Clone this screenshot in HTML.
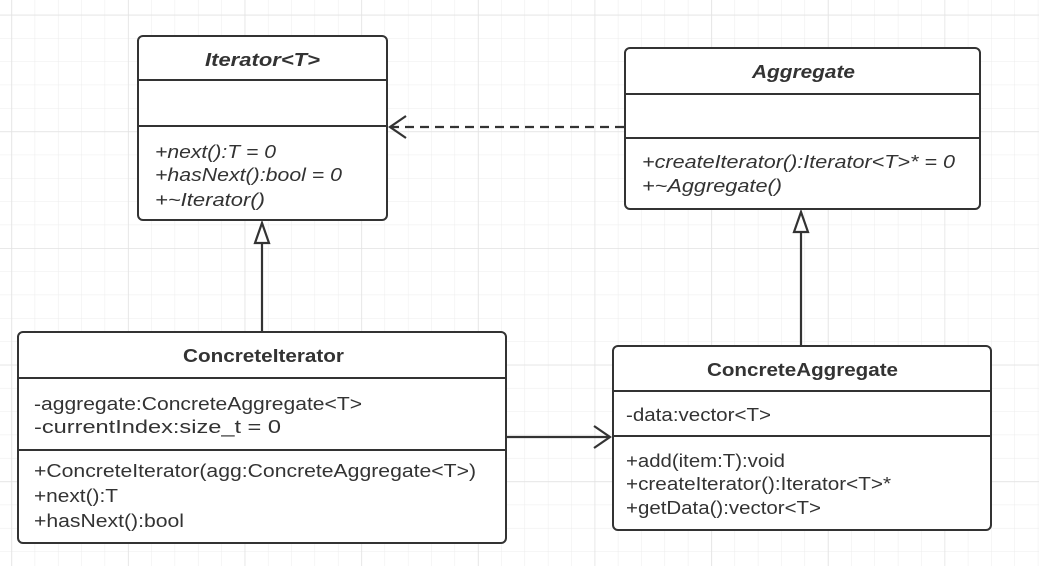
<!DOCTYPE html>
<html><head><meta charset="utf-8"><style>
html,body{margin:0;padding:0;background:#fff}
svg text{font-family:"Liberation Sans","Noto Sans CJK SC",sans-serif;font-size:18px;fill:#333}
.b{font-weight:bold}
.i{font-style:italic}
</style></head><body>
<svg width="1039" height="566" viewBox="0 0 1039 566" xmlns="http://www.w3.org/2000/svg">
<defs>
<pattern id="g" x="11.3" y="14.7" width="23.33" height="23.33" patternUnits="userSpaceOnUse">
<path d="M0 0H23.33M0 0V23.33" stroke="#ececec" stroke-width="1" fill="none"/>
</pattern>
<pattern id="G" x="11.3" y="14.7" width="116.65" height="116.65" patternUnits="userSpaceOnUse">
<path d="M0 0H116.65M0 0V116.65" stroke="#e2e2e2" stroke-width="1.5" fill="none"/>
</pattern>
</defs>
<rect width="1039" height="566" fill="url(#g)"/>
<rect width="1039" height="566" fill="url(#G)"/>
<g stroke="#333" stroke-width="2" fill="#fff">
<rect x="138" y="36" width="249" height="184" rx="5"/>
<line x1="138" y1="80" x2="387" y2="80"/><line x1="138" y1="126" x2="387" y2="126"/>
<rect x="625" y="48" width="355" height="161" rx="5"/>
<line x1="625" y1="94" x2="980" y2="94"/><line x1="625" y1="138" x2="980" y2="138"/>
<rect x="18" y="332" width="488" height="211" rx="5"/>
<line x1="18" y1="378" x2="506" y2="378"/><line x1="18" y1="450" x2="506" y2="450"/>
<rect x="613" y="346" width="378" height="184" rx="5"/>
<line x1="613" y1="391" x2="991" y2="391"/><line x1="613" y1="436" x2="991" y2="436"/>
</g>
<g stroke="#333" stroke-width="2.2" fill="none">
<line x1="624" y1="127" x2="392" y2="127" stroke-dasharray="9,6"/>
<polyline points="406,116 390,127 406,138"/>
<line x1="262" y1="332" x2="262" y2="243"/>
<polygon points="262,223 255,243 269,243" fill="#fff"/>
<line x1="801" y1="346" x2="801" y2="232"/>
<polygon points="801,212 794,232 808,232" fill="#fff"/>
<line x1="506" y1="437" x2="610" y2="437"/>
<polyline points="594,426 610,437 594,448"/>
</g>
<text x="205" y="66" textLength="115" lengthAdjust="spacingAndGlyphs" class="b i">Iterator&lt;T&gt;</text>
<text x="155" y="158" textLength="121" lengthAdjust="spacingAndGlyphs" class="i">+next():T = 0</text>
<text x="155" y="181" textLength="187" lengthAdjust="spacingAndGlyphs" class="i">+hasNext():bool = 0</text>
<text x="155" y="206" textLength="110" lengthAdjust="spacingAndGlyphs" class="i">+~Iterator()</text>
<text x="752" y="78" textLength="103" lengthAdjust="spacingAndGlyphs" class="b i">Aggregate</text>
<text x="642" y="168" textLength="313" lengthAdjust="spacingAndGlyphs" class="i">+createIterator():Iterator&lt;T&gt;* = 0</text>
<text x="642" y="192" textLength="140" lengthAdjust="spacingAndGlyphs" class="i">+~Aggregate()</text>
<text x="183" y="362" textLength="161" lengthAdjust="spacingAndGlyphs" class="b">ConcreteIterator</text>
<text x="34" y="410" textLength="328" lengthAdjust="spacingAndGlyphs">-aggregate:ConcreteAggregate&lt;T&gt;</text>
<text x="34" y="433" textLength="247" lengthAdjust="spacingAndGlyphs">-currentIndex:size_t = 0</text>
<text x="34" y="477" textLength="442" lengthAdjust="spacingAndGlyphs">+ConcreteIterator(agg:ConcreteAggregate&lt;T&gt;)</text>
<text x="34" y="502" textLength="84" lengthAdjust="spacingAndGlyphs">+next():T</text>
<text x="34" y="527" textLength="150" lengthAdjust="spacingAndGlyphs">+hasNext():bool</text>
<text x="707" y="376" textLength="191" lengthAdjust="spacingAndGlyphs" class="b">ConcreteAggregate</text>
<text x="626" y="421" textLength="145" lengthAdjust="spacingAndGlyphs">-data:vector&lt;T&gt;</text>
<text x="626" y="467" textLength="159" lengthAdjust="spacingAndGlyphs">+add(item:T):void</text>
<text x="626" y="490" textLength="265" lengthAdjust="spacingAndGlyphs">+createIterator():Iterator&lt;T&gt;*</text>
<text x="626" y="514" textLength="195" lengthAdjust="spacingAndGlyphs">+getData():vector&lt;T&gt;</text>
</svg>
</body></html>
